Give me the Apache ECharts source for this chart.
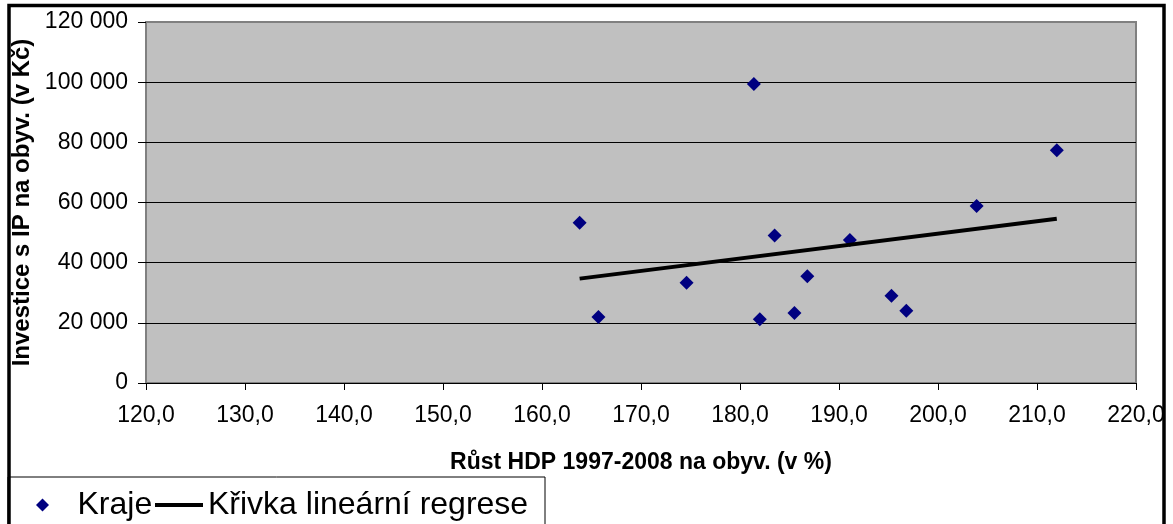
<!DOCTYPE html>
<html>
<head>
<meta charset="utf-8">
<script src="https://cdn.jsdelivr.net/npm/echarts@6/dist/echarts.min.js"></script>
<style>
  html, body { margin: 0; padding: 0; background: #ffffff; }
  #chart { width: 1173px; height: 524px; }
</style>
</head>
<body>
<div id="chart"></div>
<script>
// Data
const regionGrowth = [163.8, 165.7, 174.6, 181.4, 182.0, 183.5, 185.5, 186.8, 191.1, 195.3, 196.8, 203.9, 212.0];
const regionInvest = [53300, 21900, 33300, 99400, 21200, 49000, 23300, 35500, 47500, 29000, 24000, 58800, 77400];
const trendGrowth = [163.8, 212.0];
const trendInvest = [34700, 54600];
const xTickLabels = ['120,0', '130,0', '140,0', '150,0', '160,0', '170,0', '180,0', '190,0', '200,0', '210,0', '220,0'];
const yTickLabels = ['0', '20 000', '40 000', '60 000', '80 000', '100 000', '120 000'];
const seriesNames = ['Kraje', 'Křivka lineární regrese'];
const r2Label = 'R² = 0,0615';
const xTitle = 'Růst HDP 1997-2008 na obyv. (v %)';
const yTitle = 'Investice s IP na obyv. (v Kč)';

const FONT = '"Liberation Sans", Arial, sans-serif';

const scatterData = regionGrowth.map((x, i) => [x, regionInvest[i]]);
const trendData = trendGrowth.map((x, i) => {
  const item = { value: [x, trendInvest[i]] };
  if (i === trendGrowth.length - 1) {
    item.label = {
      show: true,
      position: 'bottom',
      offset: [11, 5],
      formatter: r2Label,
      color: '#000',
      fontFamily: FONT,
      fontSize: 22
    };
  }
  return item;
});

const legendText = { fontFamily: FONT, fontSize: 32, color: '#000', lineHeight: 30 };

const chart = echarts.init(document.getElementById('chart'), null, { renderer: 'canvas' });
chart.setOption({
  animation: false,
  backgroundColor: '#ffffff',
  textStyle: { fontFamily: FONT },
  grid: {
    left: 146, right: 37, top: 22, bottom: 141,
    show: true,
    backgroundColor: '#C0C0C0',
    borderColor: '#808080',
    borderWidth: 2
  },
  xAxis: {
    type: 'value',
    min: 120, max: 220, interval: 10,
    name: xTitle,
    nameLocation: 'middle',
    nameGap: 68,
    nameTextStyle: { fontFamily: FONT, fontSize: 23, fontWeight: 'bold', color: '#000' },
    axisLine: { show: true, onZero: false, lineStyle: { color: '#000', width: 1 } },
    axisTick: { show: true, length: 7, lineStyle: { color: '#000' } },
    axisLabel: {
      margin: 21,
      color: '#000',
      fontFamily: FONT,
      fontSize: 23,
      formatter: (v, i) => xTickLabels[i]
    },
    splitLine: { show: false }
  },
  yAxis: {
    type: 'value',
    min: 0, max: 120000, interval: 20000,
    name: yTitle,
    nameLocation: 'middle',
    nameGap: 106,
    nameTextStyle: { fontFamily: FONT, fontSize: 24, fontWeight: 'bold', color: '#000' },
    axisLine: { show: false },
    axisTick: { show: true, length: 8, lineStyle: { color: '#000' } },
    axisLabel: {
      margin: 18,
      color: '#000',
      fontFamily: FONT,
      fontSize: 23,
      formatter: (v, i) => yTickLabels[i]
    },
    splitLine: {
      show: true,
      lineStyle: { color: ['#000', '#000', '#000', '#000', '#000', '#000', '#808080'], width: 1 }
    }
  },
  legend: [
    {
      show: true,
      left: 31,
      top: 484,
      itemWidth: 60,
      itemHeight: 13,
      textStyle: legendText,
      data: [{ name: seriesNames[0], icon: 'path://M6.5,0L13,6.5L6.5,13L0,6.5Z', itemStyle: { color: '#000080' } }]
    },
    {
      show: true,
      left: 150,
      top: 484,
      itemWidth: 48,
      itemHeight: 13,
      textStyle: legendText,
      data: [{ name: seriesNames[1], icon: 'path://M0,0H48V4H0Z', itemStyle: { color: '#000' } }]
    }
  ],
  series: [
    {
      name: seriesNames[0],
      type: 'scatter',
      symbol: 'diamond',
      symbolSize: 14,
      itemStyle: { color: '#000080', opacity: 1 },
      data: scatterData,
      z: 3
    },
    {
      name: seriesNames[1],
      type: 'line',
      showSymbol: false,
      symbol: 'none',
      lineStyle: { color: '#000', width: 4 },
      itemStyle: { color: '#000' },
      data: trendData,
      z: 4
    }
  ],
  graphic: [
    {
      type: 'rect',
      z: 100,
      silent: true,
      shape: { x: 8, y: 477, width: 537, height: 120 },
      style: { fill: 'none', stroke: '#000', lineWidth: 1 }
    },
    {
      type: 'rect',
      z: 101,
      silent: true,
      shape: { x: 9, y: 5.5, width: 1155, height: 600 },
      style: { fill: 'none', stroke: '#000', lineWidth: 3.5 }
    }
  ]
});
</script>
</body>
</html>
